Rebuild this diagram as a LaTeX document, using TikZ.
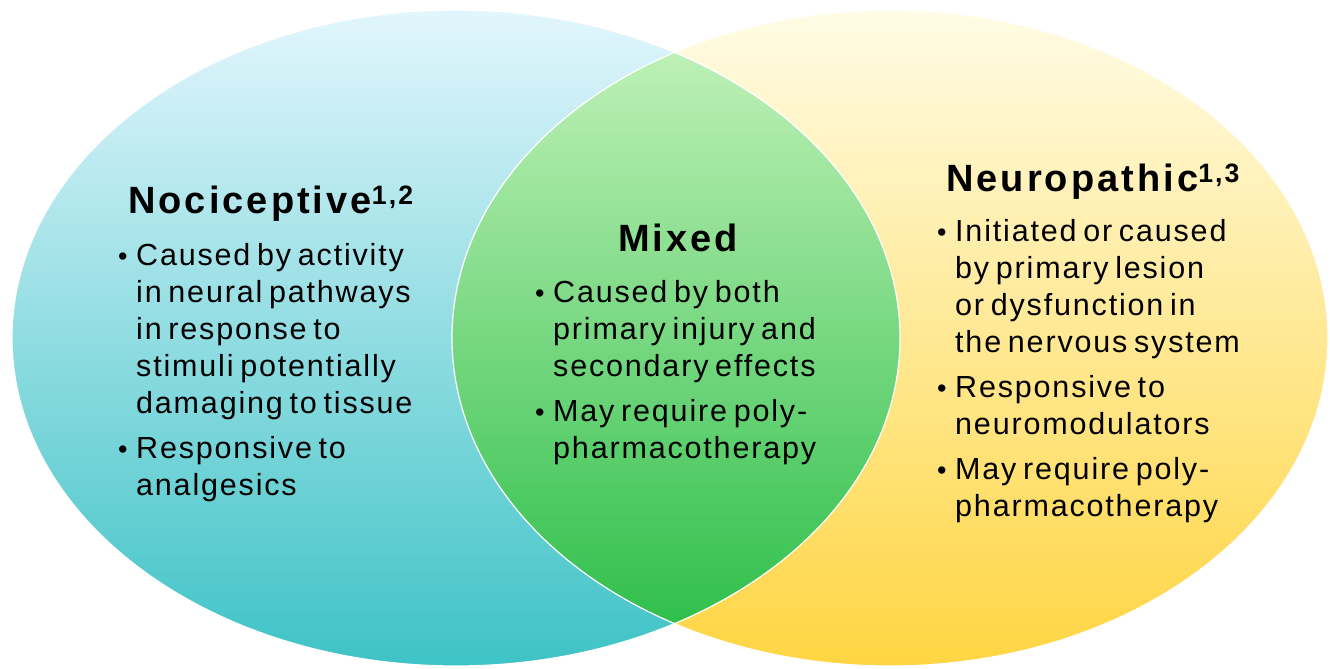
\documentclass[tikz,border=0pt]{standalone}
\usepackage{fontspec}
\setmainfont{Liberation Sans}
\definecolor{nocitop}{HTML}{E2F6FD}
\definecolor{nocimid}{HTML}{98DCE8}
\definecolor{nocibot}{HTML}{3EC3C6}
\definecolor{neurotop}{HTML}{FFFCE6}
\definecolor{neuromid}{HTML}{FFEDAA}
\definecolor{neurobot}{HTML}{FFD542}
\definecolor{mixtop}{HTML}{C0F1B8}
\definecolor{mixbot}{HTML}{2FBF4B}
\newcommand{\headfont}{\fontsize{38}{40}\selectfont\bfseries\addfontfeature{LetterSpace=8}}
\newcommand{\bodyfont}{\fontsize{30.5}{37}\selectfont\addfontfeature{LetterSpace=6}\spaceskip=0.22em\relax}
\tikzset{
  venn/.style={draw=white, line width=1.2pt},
  heading/.style={font=\headfont, inner sep=0pt},
  bullets/.style={font=\bodyfont, align=left, inner sep=0pt, anchor=north west},
}
\newcommand{\pitem}{\makebox[18pt][l]{\raisebox{0pt}{\fontsize{27}{27}\selectfont\textbullet}}}
\newcommand{\pcont}{\hspace*{18pt}}
\begin{document}
\begin{tikzpicture}[x=1pt,y=1pt]
\useasboundingbox (0,0) rectangle (1330,669);
% the two sets
\shade[top color=nocitop, middle color=nocimid, bottom color=nocibot]
  (456,331) ellipse [x radius=444, y radius=328];
\shade[top color=neurotop, middle color=neuromid, bottom color=neurobot]
  (890,331) ellipse [x radius=438, y radius=328];
% overlap
\begin{scope}
  \clip (456,331) ellipse [x radius=444, y radius=328];
  \clip (890,331) ellipse [x radius=438, y radius=328];
  \shade[top color=mixtop, bottom color=mixbot] (440,41) rectangle (920,626);
\end{scope}
\draw[venn] (456,331) ellipse [x radius=444, y radius=328];
\draw[venn] (890,331) ellipse [x radius=438, y radius=328];
% texts
\node[heading, anchor=base west] (noci) at (128,455) {Nociceptive\textsuperscript{1,2}};
\node[bullets] (nocilist) at (118,426) {\pitem Caused by activity\\
  \pcont in neural pathways\\
  \pcont in response to\\
  \pcont stimuli potentially\\
  \pcont damaging to tissue\\[8pt]
  \pitem Responsive to\\
  \pcont analgesics};
\node[heading, anchor=base] (mixed) at (678,417) {Mixed};
\node[bullets] (mixedlist) at (535,389) {\pitem Caused by both\\
  \pcont primary injury and\\
  \pcont secondary effects\\[8pt]
  \pitem May require poly-\\
  \pcont pharmacotherapy};
\node[heading, anchor=base west] (neuro) at (946,477) {Neuropathic\textsuperscript{1,3}};
\node[bullets] (neurolist) at (937,450) {\pitem Initiated or caused\\
  \pcont by primary lesion\\
  \pcont or dysfunction in\\
  \pcont the nervous system\\[8pt]
  \pitem Responsive to\\
  \pcont neuromodulators\\[8pt]
  \pitem May require poly-\\
  \pcont pharmacotherapy};
\end{tikzpicture}
\end{document}
